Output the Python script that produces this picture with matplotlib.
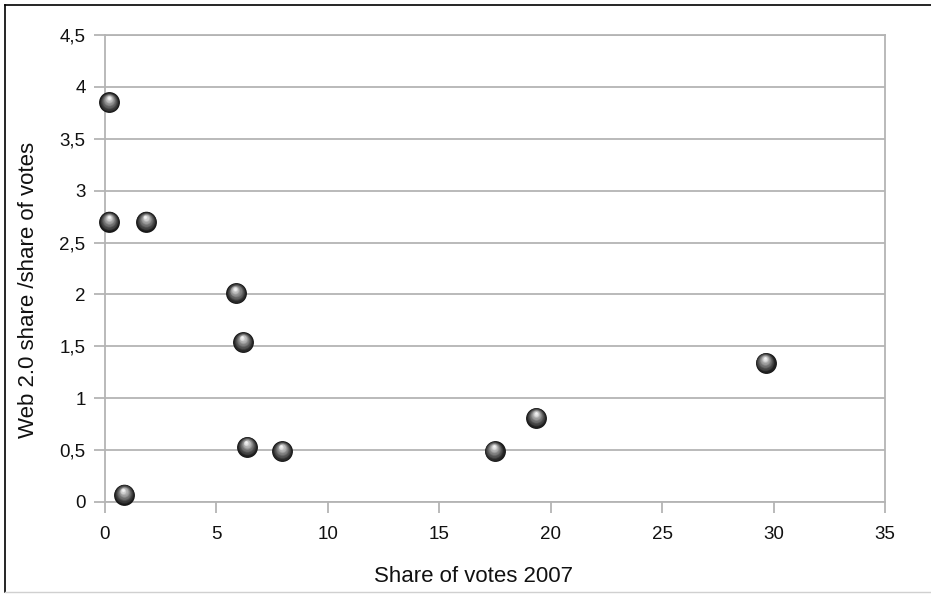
import numpy as np
import matplotlib
matplotlib.use("Agg")
import matplotlib.pyplot as plt
import matplotlib.transforms as mtransforms
from matplotlib.lines import Line2D

# Share of votes in the 2007 election vs. Web 2.0 share relative to votes
vote_share_2007 = [0.19, 0.19, 1.84, 5.87, 6.19, 6.37, 7.94, 0.85, 17.48, 19.35, 29.64]
web_ratio = [3.85, 2.70, 2.70, 2.01, 1.54, 0.53, 0.49, 0.07, 0.49, 0.81, 1.34]

x_ticks = [0, 5, 10, 15, 20, 25, 30, 35]
x_tick_labels = ["0", "5", "10", "15", "20", "25", "30", "35"]
y_ticks = [0, 0.5, 1, 1.5, 2, 2.5, 3, 3.5, 4, 4.5]
y_tick_labels = ["0", "0,5", "1", "1,5", "2", "2,5", "3", "3,5", "4", "4,5"]

plt.rcParams["font.family"] = ["Liberation Sans", "DejaVu Sans"]

W, H, DPI = 931, 594, 100
fig = plt.figure(figsize=(W / DPI, H / DPI), dpi=DPI)
fig.patch.set_facecolor("white")

ax = fig.add_axes([105 / W, 1 - 502 / H, 780 / W, (502 - 35) / H])
ax.set_xlim(0, 35)
ax.set_ylim(0, 4.5)

grid_c = "#b4b4b4"
ax.set_yticks(y_ticks)
ax.set_yticklabels(y_tick_labels)
ax.set_xticks(x_ticks)
ax.set_xticklabels(x_tick_labels)
ax.yaxis.grid(True, color=grid_c, linewidth=1.3)
ax.set_axisbelow(True)
for side in ["left", "right", "bottom", "top"]:
    ax.spines[side].set_color(grid_c)
    ax.spines[side].set_linewidth(1.3)
ax.tick_params(axis="both", direction="out", length=8, width=1.3, color=grid_c,
               labelsize=13.5, labelcolor="#111111")
ax.tick_params(axis="x", pad=9)
ax.tick_params(axis="y", pad=6)

ax.set_xlabel("Share of votes 2007", fontsize=16, color="#111111", labelpad=17)
ax.set_ylabel("Web 2.0 share /share of votes", fontsize=16, color="#111111", labelpad=15)
ax.xaxis.label.set_x(0.473)
ax.yaxis.label.set_y(0.454)

# Shaded sphere markers built from stacked discs
d = 15.0  # marker diameter in points
n_layers = 16
dark = np.array([0.09, 0.09, 0.09])
light = np.array([0.95, 0.95, 0.95])
for i in range(n_layers):
    t = i / (n_layers - 1)
    size = d * (1 - 0.88 * t)
    col = dark + (light - dark) * (t ** 1.2)
    off = mtransforms.ScaledTranslation(-0.4 * t / 72, 3.4 * t / 72, fig.dpi_scale_trans)
    ax.scatter(vote_share_2007, web_ratio, s=size ** 2, color=col, linewidths=0,
               transform=ax.transData + off, zorder=3 + i, clip_on=False)

# Frame around the figure
fig.add_artist(Line2D([5 / W, 5 / W], [1 - 5 / H, 1 - 592 / H], color="black", lw=1.2))
fig.add_artist(Line2D([5 / W, 1], [1 - 5 / H, 1 - 5 / H], color="black", lw=1.2))
fig.add_artist(Line2D([5 / W, 1], [1 - 592 / H, 1 - 592 / H], color="#d0d0d0", lw=1.0))

fig.savefig("out.png", dpi=DPI)
